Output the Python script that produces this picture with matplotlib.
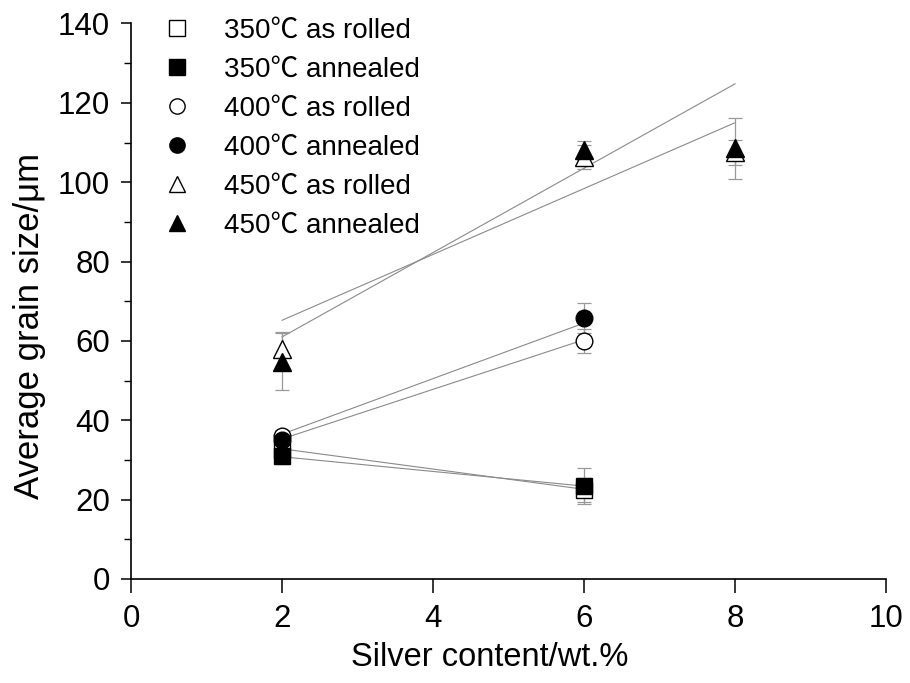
import matplotlib
matplotlib.use("Agg")
import matplotlib.pyplot as plt
import numpy as np

plt.rcParams['font.family'] = ['Liberation Sans', 'Noto Sans CJK SC', 'DejaVu Sans']

# Data
labels = ["350℃ as rolled", "350℃ annealed", "400℃ as rolled",
          "400℃ annealed", "450℃ as rolled", "450℃ annealed"]
x_350r = [2, 6];    y_350r = [32.5, 22.5];  e_350r = [2.0, 3.0]
x_350a = [2, 6];    y_350a = [31.0, 23.5];  e_350a = [2.0, 4.5]
x_400r = [2, 6];    y_400r = [36.0, 60.0];  e_400r = [1.5, 3.0]
x_400a = [2, 6];    y_400a = [35.0, 65.8];  e_400a = [1.5, 3.8]
x_450r = [2, 6, 8]; y_450r = [58.0, 106.3, 107.5]; e_450r = [4.3, 3.0, 3.2]
x_450a = [2, 6, 8]; y_450a = [54.8, 108.0, 108.5]; e_450a = [7.2, 2.5, 7.6]

# Linear fit lines (endpoints)
fx_350r = [2, 6]; fy_350r = [32.8, 22.6]
fx_350a = [2, 6]; fy_350a = [30.8, 23.4]
fx_400r = [2, 6]; fy_400r = [35.3, 60.3]
fx_400a = [2, 6]; fy_400a = [36.5, 64.5]
fx_450r = [2, 8]; fy_450r = [61.0, 124.8]
fx_450a = [2, 8]; fy_450a = [65.2, 115.0]

fig = plt.figure(figsize=(9.10, 6.83), dpi=100)
ax = fig.add_axes([0.144, 0.1523, 0.8297, 0.8133])

line_col = '#8a8a8a'
for fx, fy in [(fx_350r, fy_350r), (fx_350a, fy_350a), (fx_400r, fy_400r),
               (fx_400a, fy_400a), (fx_450r, fy_450r), (fx_450a, fy_450a)]:
    ax.plot(fx, fy, color=line_col, lw=0.8, zorder=1)

series = [
    (x_350r, y_350r, e_350r, 's', 'white', 11),
    (x_350a, y_350a, e_350a, 's', 'black', 11),
    (x_400r, y_400r, e_400r, 'o', 'white', 12),
    (x_400a, y_400a, e_400a, 'o', 'black', 12),
    (x_450r, y_450r, e_450r, '^', 'white', 13),
    (x_450a, y_450a, e_450a, '^', 'black', 13),
]
handles = []
for (xs, ys, es, m, fc, ms), lab in zip(series, labels):
    ax.errorbar(xs, ys, yerr=es, fmt='none', ecolor='#999999', elinewidth=0.9,
                capsize=5, capthick=0.9, zorder=2)
    h, = ax.plot(xs, ys, linestyle='none', marker=m, markersize=ms,
                 markerfacecolor=fc, markeredgecolor='black', markeredgewidth=1.0,
                 zorder=3, label=lab)
    handles.append(h)

ax.set_xlim(0, 10)
ax.set_ylim(0, 140)
ax.set_xticks([0, 2, 4, 6, 8, 10])
ax.set_yticks(np.arange(0, 141, 20))
ax.set_yticks(np.arange(10, 140, 20), minor=True)
for s in ['top', 'right']:
    ax.spines[s].set_visible(False)
for s in ['left', 'bottom']:
    ax.spines[s].set_linewidth(1.2)
ax.tick_params(axis='y', which='major', direction='out', length=7, width=1.1,
               labelsize=22.5, colors='black', pad=8)
ax.tick_params(axis='x', which='major', direction='out', length=10, width=1.1,
               labelsize=22.5, colors='black', pad=8)
ax.tick_params(axis='y', which='minor', direction='out', length=5, width=1.0)
ax.set_xlabel("Silver content/wt.%", fontsize=23.5)
ax.xaxis.set_label_coords(0.475, -0.113)
ax.set_ylabel("Average grain size/μm", fontsize=25)
ax.yaxis.set_label_coords(-0.112, 0.455)

leg = ax.legend(handles=handles, loc='upper left', bbox_to_anchor=(0.017, 1.04),
                frameon=False, fontsize=20, handletextpad=1.1, labelspacing=0.47,
                handlelength=1.2, borderaxespad=0.2)
for h in leg.legend_handles:
    h.set_markersize(11)

fig.savefig("out.png", dpi=100)
